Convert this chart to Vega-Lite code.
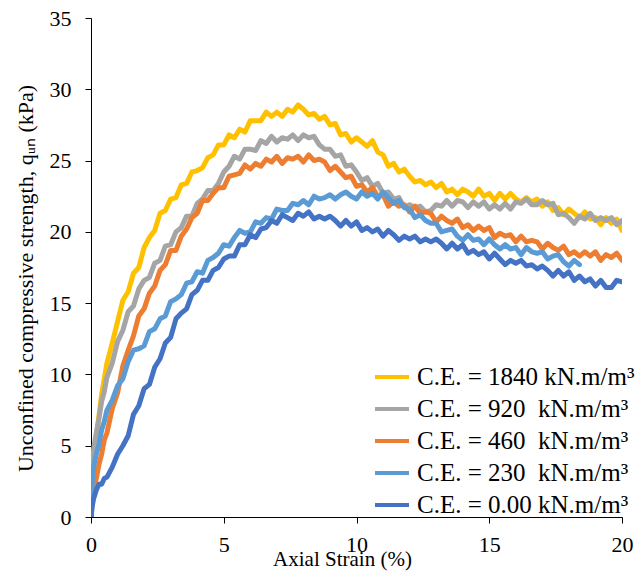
{
  "$schema": "https://vega.github.io/schema/vega-lite/v6.json",
  "width": 531,
  "height": 499,
  "autosize": {"type": "none"},
  "padding": {"left": 91, "top": 18, "right": 22, "bottom": 55},
  "background": "white",
  "config": {
    "view": {"stroke": null},
    "font": "Liberation Serif",
    "axis": {
      "grid": false,
      "domainColor": "black",
      "tickColor": "black",
      "tickSize": 6,
      "labelFont": "Liberation Serif",
      "labelFontSize": 22,
      "labelColor": "black",
      "titleFont": "Liberation Serif",
      "titleFontSize": 22,
      "titleFontWeight": "normal",
      "titleColor": "black"
    },
    "legend": {
      "labelFont": "Liberation Serif",
      "labelFontSize": 25,
      "labelColor": "black",
      "labelLimit": 400
    }
  },
  "data": {
    "values": [
      {"x": 0, "a": 0, "b": 0, "c": 0, "d": 0, "e": 0},
      {"x": 0.05, "a": 2.5, "b": 3.5, "c": 1.2, "d": 2.5, "e": 0.8},
      {"x": 0.1, "a": 4.0, "b": 4.8, "c": 1.9, "d": 3.5, "e": 1.3},
      {"x": 0.2, "a": 5.6, "b": 5.9, "c": 2.7, "d": 4.4, "e": 1.9},
      {"x": 0.3, "a": 7.1, "b": 6.9, "c": 3.7, "d": 5.1, "e": 2.3},
      {"x": 0.4, "a": 8.6, "b": 8.1, "c": 4.4, "d": 6.1, "e": 2.3},
      {"x": 0.5, "a": 9.7, "b": 8.8, "c": 5.4, "d": 6.7, "e": 2.7},
      {"x": 0.6, "a": 10.8, "b": 9.8, "c": 5.9, "d": 7.5, "e": 2.8},
      {"x": 0.8, "a": 12.2, "b": 10.8, "c": 7.6, "d": 8.2, "e": 3.5},
      {"x": 1.0, "a": 13.7, "b": 12.3, "c": 8.7, "d": 9.2, "e": 4.4},
      {"x": 1.2, "a": 15.2, "b": 13.1, "c": 10.6, "d": 9.7, "e": 5.0},
      {"x": 1.4, "a": 15.8, "b": 14.4, "c": 11.7, "d": 10.9, "e": 5.7},
      {"x": 1.6, "a": 17.1, "b": 14.8, "c": 12.7, "d": 11.7, "e": 7.2},
      {"x": 1.8, "a": 17.5, "b": 16.0, "c": 14.1, "d": 11.8, "e": 7.8},
      {"x": 2.0, "a": 18.9, "b": 16.6, "c": 14.6, "d": 12.0, "e": 9.0},
      {"x": 2.2, "a": 19.6, "b": 16.8, "c": 15.7, "d": 13.0, "e": 9.3},
      {"x": 2.4, "a": 20.1, "b": 17.8, "c": 16.2, "d": 13.2, "e": 10.5},
      {"x": 2.6, "a": 21.3, "b": 18.0, "c": 17.3, "d": 13.9, "e": 11.1},
      {"x": 2.8, "a": 21.5, "b": 19.0, "c": 17.7, "d": 14.1, "e": 12.2},
      {"x": 3.0, "a": 22.3, "b": 19.1, "c": 18.7, "d": 15.1, "e": 12.6},
      {"x": 3.2, "a": 22.4, "b": 20.0, "c": 18.7, "d": 15.3, "e": 13.9},
      {"x": 3.4, "a": 23.3, "b": 20.3, "c": 19.7, "d": 15.6, "e": 14.3},
      {"x": 3.6, "a": 23.4, "b": 21.1, "c": 20.2, "d": 16.4, "e": 14.6},
      {"x": 3.8, "a": 24.2, "b": 21.1, "c": 21.0, "d": 16.5, "e": 15.6},
      {"x": 4.0, "a": 24.3, "b": 22.0, "c": 21.3, "d": 17.2, "e": 15.9},
      {"x": 4.2, "a": 24.5, "b": 22.3, "c": 22.2, "d": 17.1, "e": 16.6},
      {"x": 4.4, "a": 25.2, "b": 22.9, "c": 22.2, "d": 18.0, "e": 16.6},
      {"x": 4.6, "a": 25.4, "b": 22.9, "c": 22.7, "d": 18.2, "e": 17.3},
      {"x": 4.8, "a": 26.1, "b": 23.4, "c": 23.1, "d": 18.5, "e": 17.5},
      {"x": 5.0, "a": 26.1, "b": 24.2, "c": 23.1, "d": 19.1, "e": 18.1},
      {"x": 5.2, "a": 26.8, "b": 24.6, "c": 23.9, "d": 19.0, "e": 18.3},
      {"x": 5.4, "a": 26.6, "b": 25.3, "c": 24.0, "d": 19.6, "e": 18.3},
      {"x": 5.6, "a": 27.2, "b": 25.1, "c": 24.1, "d": 20.1, "e": 19.1},
      {"x": 5.8, "a": 27.0, "b": 25.8, "c": 24.7, "d": 19.9, "e": 19.1},
      {"x": 6.0, "a": 27.8, "b": 25.8, "c": 24.4, "d": 20.0, "e": 19.8},
      {"x": 6.2, "a": 27.8, "b": 25.7, "c": 24.8, "d": 20.7, "e": 19.6},
      {"x": 6.4, "a": 27.8, "b": 26.4, "c": 24.6, "d": 20.6, "e": 20.2},
      {"x": 6.6, "a": 28.4, "b": 26.2, "c": 25.1, "d": 21.0, "e": 20.3},
      {"x": 6.8, "a": 28.1, "b": 26.7, "c": 24.9, "d": 20.9, "e": 20.8},
      {"x": 7.0, "a": 28.4, "b": 26.3, "c": 25.3, "d": 21.6, "e": 20.6},
      {"x": 7.2, "a": 28.1, "b": 26.6, "c": 24.8, "d": 21.5, "e": 21.2},
      {"x": 7.4, "a": 28.6, "b": 26.5, "c": 25.2, "d": 21.5, "e": 21.0},
      {"x": 7.6, "a": 28.4, "b": 26.8, "c": 25.1, "d": 22.0, "e": 20.8},
      {"x": 7.8, "a": 28.9, "b": 26.4, "c": 25.3, "d": 21.9, "e": 21.3},
      {"x": 8.0, "a": 28.6, "b": 26.8, "c": 24.9, "d": 22.2, "e": 21.1},
      {"x": 8.2, "a": 28.2, "b": 26.6, "c": 25.4, "d": 21.9, "e": 21.4},
      {"x": 8.4, "a": 28.3, "b": 26.7, "c": 25.0, "d": 22.5, "e": 20.9},
      {"x": 8.6, "a": 27.9, "b": 26.1, "c": 25.1, "d": 22.3, "e": 21.1},
      {"x": 8.8, "a": 28.1, "b": 25.8, "c": 24.9, "d": 22.4, "e": 20.9},
      {"x": 9.0, "a": 27.5, "b": 25.8, "c": 24.3, "d": 22.6, "e": 21.1},
      {"x": 9.2, "a": 27.6, "b": 25.3, "c": 24.6, "d": 22.3, "e": 20.8},
      {"x": 9.4, "a": 26.8, "b": 25.4, "c": 24.2, "d": 22.6, "e": 20.4},
      {"x": 9.6, "a": 26.9, "b": 24.6, "c": 23.8, "d": 22.8, "e": 20.8},
      {"x": 9.8, "a": 26.3, "b": 24.7, "c": 23.9, "d": 22.5, "e": 20.4},
      {"x": 10.0, "a": 26.6, "b": 24.2, "c": 23.2, "d": 22.3, "e": 20.7},
      {"x": 10.2, "a": 26.3, "b": 23.6, "c": 23.3, "d": 22.8, "e": 20.1},
      {"x": 10.4, "a": 26.0, "b": 23.8, "c": 22.8, "d": 22.5, "e": 20.3},
      {"x": 10.6, "a": 26.4, "b": 23.2, "c": 23.1, "d": 22.7, "e": 20.0},
      {"x": 10.8, "a": 25.6, "b": 23.4, "c": 22.5, "d": 22.3, "e": 20.2},
      {"x": 11.0, "a": 25.4, "b": 22.7, "c": 22.6, "d": 22.8, "e": 19.7},
      {"x": 11.2, "a": 24.6, "b": 22.8, "c": 21.8, "d": 22.4, "e": 20.1},
      {"x": 11.4, "a": 24.8, "b": 22.3, "c": 22.1, "d": 22.0, "e": 19.8},
      {"x": 11.6, "a": 24.2, "b": 22.4, "c": 21.8, "d": 22.2, "e": 19.4},
      {"x": 11.8, "a": 24.4, "b": 21.7, "c": 21.9, "d": 21.7, "e": 19.7},
      {"x": 12.0, "a": 23.9, "b": 21.9, "c": 21.4, "d": 21.6, "e": 19.5},
      {"x": 12.2, "a": 23.5, "b": 21.7, "c": 21.8, "d": 21.0, "e": 19.7},
      {"x": 12.4, "a": 23.6, "b": 21.8, "c": 21.3, "d": 21.2, "e": 19.3},
      {"x": 12.6, "a": 23.3, "b": 21.4, "c": 21.4, "d": 20.8, "e": 19.5},
      {"x": 12.8, "a": 23.5, "b": 21.5, "c": 21.3, "d": 20.6, "e": 19.3},
      {"x": 13.0, "a": 23.1, "b": 21.9, "c": 20.7, "d": 20.6, "e": 19.5},
      {"x": 13.2, "a": 23.4, "b": 21.8, "c": 21.1, "d": 20.0, "e": 19.2},
      {"x": 13.4, "a": 22.8, "b": 22.2, "c": 20.8, "d": 20.1, "e": 18.8},
      {"x": 13.6, "a": 23.0, "b": 21.8, "c": 20.6, "d": 20.2, "e": 19.2},
      {"x": 13.8, "a": 22.6, "b": 22.2, "c": 20.9, "d": 19.7, "e": 18.8},
      {"x": 14.0, "a": 23.0, "b": 22.1, "c": 20.3, "d": 19.4, "e": 19.1},
      {"x": 14.2, "a": 22.8, "b": 21.7, "c": 20.5, "d": 19.8, "e": 18.5},
      {"x": 14.4, "a": 22.5, "b": 22.1, "c": 20.1, "d": 19.4, "e": 18.7},
      {"x": 14.6, "a": 23.0, "b": 21.8, "c": 20.4, "d": 19.5, "e": 18.4},
      {"x": 14.8, "a": 22.5, "b": 22.1, "c": 20.1, "d": 19.1, "e": 18.6},
      {"x": 15.0, "a": 22.7, "b": 21.6, "c": 20.3, "d": 19.5, "e": 18.1},
      {"x": 15.2, "a": 22.2, "b": 21.9, "c": 19.6, "d": 19.1, "e": 18.5},
      {"x": 15.4, "a": 22.7, "b": 21.6, "c": 19.9, "d": 18.8, "e": 18.1},
      {"x": 15.6, "a": 22.3, "b": 22.0, "c": 19.7, "d": 19.1, "e": 17.7},
      {"x": 15.8, "a": 22.7, "b": 21.6, "c": 19.8, "d": 18.8, "e": 18.0},
      {"x": 16.0, "a": 22.3, "b": 22.1, "c": 19.3, "d": 18.9, "e": 17.8},
      {"x": 16.2, "a": 22.1, "b": 22.0, "c": 19.7, "d": 18.4, "e": 18.0},
      {"x": 16.4, "a": 22.4, "b": 22.3, "c": 19.3, "d": 18.9, "e": 17.6},
      {"x": 16.6, "a": 22.1, "b": 21.9, "c": 19.4, "d": 18.6, "e": 17.7},
      {"x": 16.8, "a": 22.3, "b": 21.9, "c": 19.3, "d": 18.5, "e": 17.4},
      {"x": 17.0, "a": 21.8, "b": 22.2, "c": 18.8, "d": 18.6, "e": 17.6},
      {"x": 17.2, "a": 22.1, "b": 21.9, "c": 19.2, "d": 18.1, "e": 17.3},
      {"x": 17.4, "a": 21.5, "b": 22.0, "c": 18.9, "d": 18.3, "e": 16.9},
      {"x": 17.6, "a": 21.7, "b": 21.2, "c": 18.7, "d": 18.4, "e": 17.3},
      {"x": 17.8, "a": 21.2, "b": 21.3, "c": 19.0, "d": 17.9, "e": 16.9},
      {"x": 18.0, "a": 21.6, "b": 21.0, "c": 18.4, "d": 17.6, "e": 17.2},
      {"x": 18.2, "a": 21.3, "b": 20.6, "c": 18.6, "d": 18.0, "e": 16.6},
      {"x": 18.4, "a": 21.0, "b": 21.1, "c": 18.3, "d": 17.7, "e": 16.9},
      {"x": 18.6, "a": 21.4, "b": 20.9, "c": 18.6, "e": 16.5},
      {"x": 18.8, "a": 20.9, "b": 21.3, "c": 18.3, "e": 16.7},
      {"x": 19.0, "a": 21.0, "b": 20.8, "c": 18.6, "e": 16.2},
      {"x": 19.2, "a": 20.5, "b": 21.0, "c": 18.0, "e": 16.6},
      {"x": 19.4, "a": 21.0, "b": 20.8, "c": 18.4, "e": 16.1},
      {"x": 19.6, "a": 20.6, "b": 21.0, "c": 18.2, "e": 16.1},
      {"x": 19.8, "a": 20.9, "b": 20.5, "c": 18.5, "e": 16.6},
      {"x": 20.0, "a": 20.1, "b": 20.8, "c": 18.0, "e": 16.5}
    ]
  },
  "transform": [
    {"fold": ["a", "b", "c", "d", "e"], "as": ["series", "value"]},
    {"filter": "datum.value != null"}
  ],
  "mark": {"type": "line", "strokeWidth": 5, "strokeJoin": "round", "strokeCap": "round", "clip": true},
  "encoding": {
    "x": {
      "field": "x",
      "type": "quantitative",
      "scale": {"domain": [0, 20], "nice": false},
      "axis": {"values": [0, 5, 10, 15, 20], "title": "Axial Strain (%)", "labelPadding": 11, "titlePadding": -7, "titleFontSize": 21, "titleX": 251, "labelFlush": false}
    },
    "y": {
      "field": "value",
      "type": "quantitative",
      "scale": {"domain": [0, 35], "nice": false},
      "axis": {"values": [0, 5, 10, 15, 20, 25, 30, 35], "title": "Unconfined compressive strength, qᵤₙ (kPa)", "labelPadding": 14, "titlePadding": 12, "titleY": 260}
    },
    "color": {
      "field": "series",
      "type": "nominal",
      "scale": {
        "domain": ["a", "b", "c", "d", "e"],
        "range": ["#FFC000", "#A5A5A5", "#ED7D31", "#5B9BD5", "#4472C4"]
      },
      "legend": {
        "title": null,
        "orient": "none",
        "legendX": 282,
        "legendY": 340,
        "symbolType": "stroke",
        "symbolStrokeWidth": 4,
        "symbolSize": 1156,
        "rowPadding": -6.7,
        "labelOffset": 6,
        "labelExpr": "{'a': 'C.E. = 1840 kN.m/m³', 'b': 'C.E. = 920\u00a0 kN.m/m³', 'c': 'C.E. = 460\u00a0 kN.m/m³', 'd': 'C.E. = 230\u00a0 kN.m/m³', 'e': 'C.E. = 0.00 kN.m/m³'}[datum.label]"
      }
    }
  }
}
